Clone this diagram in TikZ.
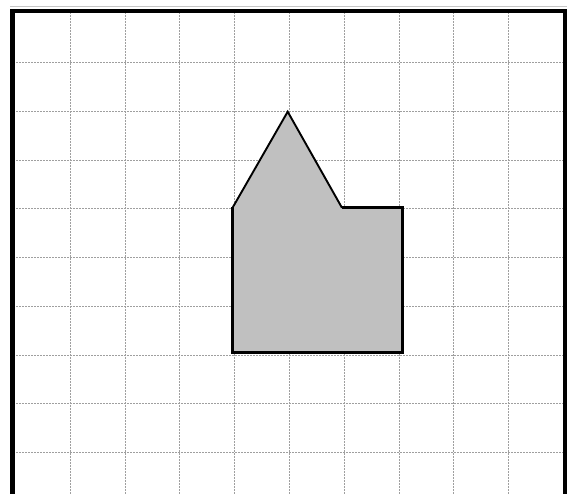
\documentclass[tikz,border=0pt]{standalone}
\usetikzlibrary{calc}
\definecolor{shapegray}{RGB}{192,192,192}
\tikzset{
  gridline/.style={draw=gray!75, line width=0.6pt, dash pattern=on 2pt off 1pt},
  framestroke/.style={draw=black, line width=4.5pt},
  outlinethick/.style={draw=black, line width=3.2pt, line join=miter},
  outlinethin/.style={draw=black, line width=1.9pt, line cap=round},
}
\begin{document}
\begin{tikzpicture}[x=1pt, y=-1pt]
\useasboundingbox (0,0) rectangle (571,494);
\clip (0,0) rectangle (571,494);
% grid
\foreach \k in {1,...,9}{
  \draw[gridline] ({15.2+54.8*\k},12) -- ({15.2+54.8*\k},494);
  \draw[gridline] (13,{13.6+48.75*\k}) -- (564,{13.6+48.75*\k});
}
% faint line above frame
\draw[gray!45, line width=0.8pt] (10,6.8) -- (567,6.8);
% frame
\draw[framestroke] (12.5,500) -- (12.5,10.8) -- (565,10.8) -- (565,500);
% shape
\coordinate (lt) at (232.8,207.3);
\coordinate (pk) at (287.7,111.7);
\coordinate (nt) at (341.7,207.3);
\coordinate (rt) at (402.8,207.3);
\coordinate (rb) at (402.8,352.6);
\coordinate (lb) at (232.8,352.6);
\fill[shapegray] (lt) -- (pk) -- (nt) -- (rt) -- (rb) -- (lb) -- cycle;
\draw[outlinethin] (lt) -- (pk) -- (nt);
\draw[outlinethick] (nt) -- (rt) -- (rb) -- (lb) -- (lt);
\end{tikzpicture}
\end{document}
